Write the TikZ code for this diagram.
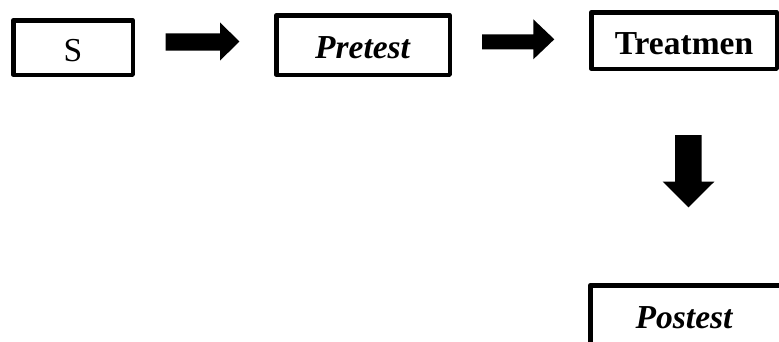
\documentclass[tikz,border=0pt]{standalone}
\usepackage{fontspec}
\setmainfont{Liberation Serif}
\begin{document}
\begin{tikzpicture}[x=1pt,y=-1pt,
  box/.style={draw, line width=4.5pt, line join=round, rectangle, inner sep=0pt,
    text height=27pt, text depth=0pt, font=\fontsize{33.5}{40}\selectfont},
  blockarrow/.style={fill=black}]
\useasboundingbox (0,0) rectangle (779,341);
\node[box, minimum width=119.5pt, minimum height=54.5pt] (s) at (73,47.5) {S};
\node[box, minimum width=173.5pt, minimum height=59.5pt] (pre) at (363,45) {\textbf{\textit{Pretest}}};
\node[box, minimum width=185.5pt, minimum height=56.5pt] (treat) at (684,40.5) {\textbf{Treatmen}};
\begin{scope}
\clip (0,0) rectangle (779,341);
\node[box, minimum width=220pt, minimum height=58.5pt] (post) at (700.25,314.5) {\textbf{\textit{Postest}}\hspace*{31.5pt}};
\end{scope}
\fill[blockarrow] (165.7,33.3) -- (220,33.3) -- (220,22.3) -- (239.3,41.5) -- (220,60.7) -- (220,50.7) -- (165.7,50.7) -- cycle;
\fill[blockarrow] (482,34.3) -- (533.3,34.3) -- (533.3,19.3) -- (554.3,39.3) -- (533.3,59.3) -- (533.3,49.3) -- (482,49.3) -- cycle;
\fill[blockarrow] (675,135) -- (701.7,135) -- (701.7,181.7) -- (714.3,181.7) -- (688.5,207.3) -- (662.7,181.7) -- (675,181.7) -- cycle;
\end{tikzpicture}
\end{document}
